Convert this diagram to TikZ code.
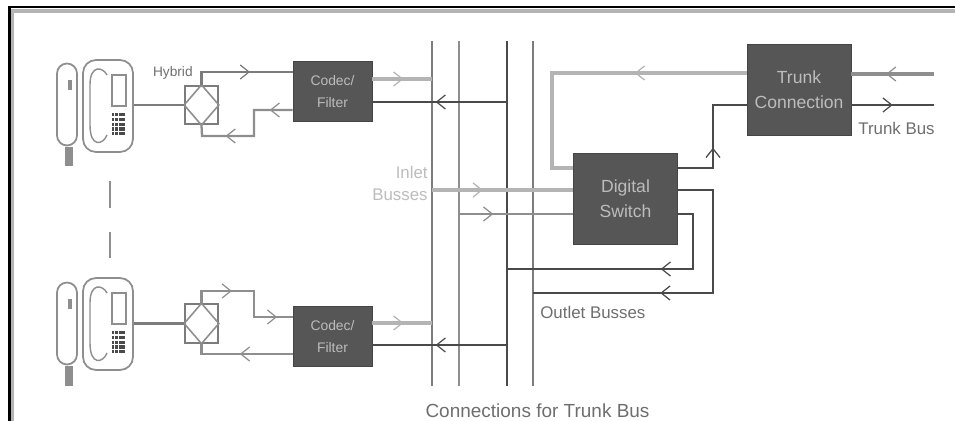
\documentclass[tikz,border=0pt]{standalone}
\usepackage{fontspec}
\setmainfont{Liberation Sans}
\usetikzlibrary{positioning,arrows.meta,decorations.markings}

\definecolor{boxgray}{HTML}{565656}
\definecolor{boxtext}{HTML}{BCBCBC}
\definecolor{labelgray}{HTML}{6E6E6E}
\definecolor{darkwire}{HTML}{4A4A4A}
\definecolor{midwire}{HTML}{7C7C7C}
\definecolor{softwire}{HTML}{8E8E8E}
\definecolor{palewire}{HTML}{B4B4B4}

\begin{document}
\begin{tikzpicture}[
  x=0.02cm,
  y=-0.02cm,
  >={Straight Barb[length=5pt,width=8pt]},
  darkbox/.style={draw=boxgray!80!black, fill=boxgray, text=boxtext, align=center, inner sep=0pt},
  codecbox/.style={darkbox, minimum width=1.58cm, minimum height=1.2cm, font=\fontsize{7.9}{13}\selectfont},
  bigbox/.style={darkbox, minimum width=2.08cm, minimum height=1.82cm, font=\fontsize{10}{14.5}\selectfont},
  hybridbox/.style={draw=midwire, line width=1pt, minimum width=0.66cm, minimum height=0.77cm, inner sep=0pt},
  handset/.style={draw=softwire, line width=1pt, rounded corners=0.2cm, minimum width=0.4cm, minimum height=1.64cm, inner sep=0pt},
  phonebase/.style={draw=softwire, line width=1pt, rounded corners=0.26cm, minimum width=1cm, minimum height=1.84cm, inner sep=0pt},
  phonepart/.style={draw=softwire, line width=0.8pt},
  buslabel/.style={text=labelgray, inner sep=0pt, font=\fontsize{9.6}{12.5}\selectfont},
  darkline/.style={draw=darkwire, line width=1.2pt},
  midline/.style={draw=midwire, line width=1.2pt},
  softline/.style={draw=softwire, line width=1.3pt},
  paleline/.style={draw=palewire, line width=1.8pt},
  tipat/.style={postaction={decorate}, decoration={markings, mark=at position #1 with {\arrow[line width=0.7pt]{>}}}},
  twotips/.style 2 args={postaction={decorate}, decoration={markings,
    mark=at position #1 with {\arrow[line width=0.7pt]{>}},
    mark=at position #2 with {\arrow[line width=0.7pt]{>}}}},
  pics/phonebits/.style={code={
    \draw[phonepart] (-1,-31) .. controls (-5,-39) and (-18,-42) .. (-18,-21) -- (-18,19) .. controls (-18,42) and (-5,39) .. (-1,29);
    \draw[phonepart, fill=white] (4,-31) rectangle (18,0);
    \foreach \row in {0,1,2,3,4} {
      \foreach \col in {0,1,2,3} {
        \fill[darkwire] (3.5+\col*3.6,7+\row*4.8) rectangle ++(2.8,3.2);
      }
    }
  }}
]
\useasboundingbox (0,0) rectangle (955,421);

% Frame of the scan
\draw[palewire, line width=2pt] (12.5,421) -- (12.5,11) -- (955,11);
\draw[black, line width=1.2pt] (9.5,421) -- (9.5,7) -- (955,7);

% Upper telephone
\node[handset] (handset1) at (67,104.5) {};
\fill[softwire] (65,147) rectangle (73,166);
\fill[softwire] (68,80) rectangle (72,90);
\node[phonebase] (phone1) at (108,106) {};
\pic at (phone1.center) {phonebits};

% Lower telephone
\node[handset] (handset2) at (67,323.5) {};
\fill[softwire] (65,366) rectangle (73,386);
\fill[softwire] (68,299) rectangle (72,309);
\node[phonebase] (phone2) at (108,324) {};
\pic at (phone2.center) {phonebits};

% Break between the telephones
\draw[softline] (110,181) -- (110,208);
\draw[softline] (110,232) -- (110,258);

% Hybrids
\node[hybridbox] (hybrid1) at (201.5,105) {};
\draw[softwire, line width=0.9pt] (hybrid1.north) -- (hybrid1.east) -- (hybrid1.south) -- (hybrid1.west) -- cycle;
\node[buslabel, anchor=east, font=\fontsize{7.8}{10}\selectfont] (hybrid_label) at (193,73) {Hybrid};
\node[hybridbox] (hybrid2) at (201.5,323.5) {};
\draw[softwire, line width=0.9pt] (hybrid2.north) -- (hybrid2.east) -- (hybrid2.south) -- (hybrid2.west) -- cycle;

% Main boxes
\node[codecbox] (codec1) at (332.5,91.5) {Codec/\\Filter};
\node[codecbox] (codec2) at (332.5,336.5) {Codec/\\Filter};
\node[bigbox] (switch) at (625.5,198.5) {Digital\\Switch};
\node[bigbox] (trunk) at (799,89.5) {Trunk\\Connection};

% Bus lines
\coordinate (bus1top) at (432,41);
\coordinate (bus2top) at (459,41);
\coordinate (bus3top) at (507,41);
\coordinate (bus4top) at (533,41);
\coordinate (bus1end) at (432,386);
\coordinate (bus2end) at (459,386);
\coordinate (bus3end) at (507,386);
\coordinate (bus4end) at (533,386);
\draw[midline] (bus1top) -- (bus1end);
\draw[softline] (bus2top) -- (bus2end);
\draw[darkline] (bus3top) -- (bus3end);
\draw[midline] (bus4top) -- (bus4end);

% Telephones to hybrids
\draw[midline] (phone1.east |- hybrid1.west) -- (hybrid1.west);
\draw[midline] (phone2.east |- hybrid2.west) -- (hybrid2.west);

% Hybrids to codecs
\draw[midline, tipat=0.59] (hybrid1.north) |- (codec1.west |- 0,72);
\draw[softline, twotips={0.18}{0.73}] (codec1.west |- 0,110) -- (254,110) -- (254,136) -- (202,136) -- (hybrid1.south);
\draw[softline, twotips={0.33}{0.88}] (hybrid2.north) -- (201.5,291) -- (254,291) -- (254,317) -- (codec2.west |- 0,317);
\draw[softline, tipat=0.52] (codec2.west |- 0,354) -| (hybrid2.south);

% Codecs and busses
\draw[paleline, tipat=0.52] (codec1.east |- 0,79) -- (bus1top |- 0,79);
\draw[darkline, tipat=0.53] (bus3top |- 0,102) -- (codec1.east |- 0,102);
\draw[paleline, tipat=0.52] (codec2.east |- 0,323) -- (bus1top |- 0,323);
\draw[darkline, tipat=0.53] (bus3top |- 0,345) -- (codec2.east |- 0,345);

% Inlet busses
\draw[paleline, tipat=0.36] (bus1top |- 0,190) -- (switch.west |- 0,190);
\draw[softline, tipat=0.30] (bus2top |- 0,214) -- (switch.west |- 0,214);

% Outlet busses
\draw[darkline, tipat=0.40] (switch.east |- 0,214) -- (693,214) |- (bus3top |- 0,269);
\draw[darkline, tipat=0.60] (switch.east |- 0,190) -- (713,190) |- (bus4top |- 0,293);

% Switch and trunk
\draw[paleline, tipat=0.36] (trunk.west |- 0,73) -- (552,73) |- (switch.west |- 0,168);
\draw[darkline, tipat=0.42] (switch.east |- 0,168) -| (713,105) -- (trunk.west |- 0,105);
\draw[softline, line width=1.8pt, tipat=0.58] (934,74) -- (trunk.east |- 0,74);
\draw[darkline, tipat=0.50] (trunk.east |- 0,105) -- (934,105);

% Labels
\node[buslabel, anchor=west] (trunk_label) at (858,128) {Trunk Bus};
\node[buslabel, align=right, anchor=east] (inlet_label) at (428,183) {\textcolor{boxtext}{Inlet}\\\textcolor{boxtext}{Busses}};
\node[buslabel, anchor=west] (outlet_label) at (540,312) {Outlet Busses};
\node[buslabel, font=\fontsize{10.8}{13}\selectfont] (caption) at (537.5,411) {Connections for Trunk Bus};

\end{tikzpicture}
\end{document}
